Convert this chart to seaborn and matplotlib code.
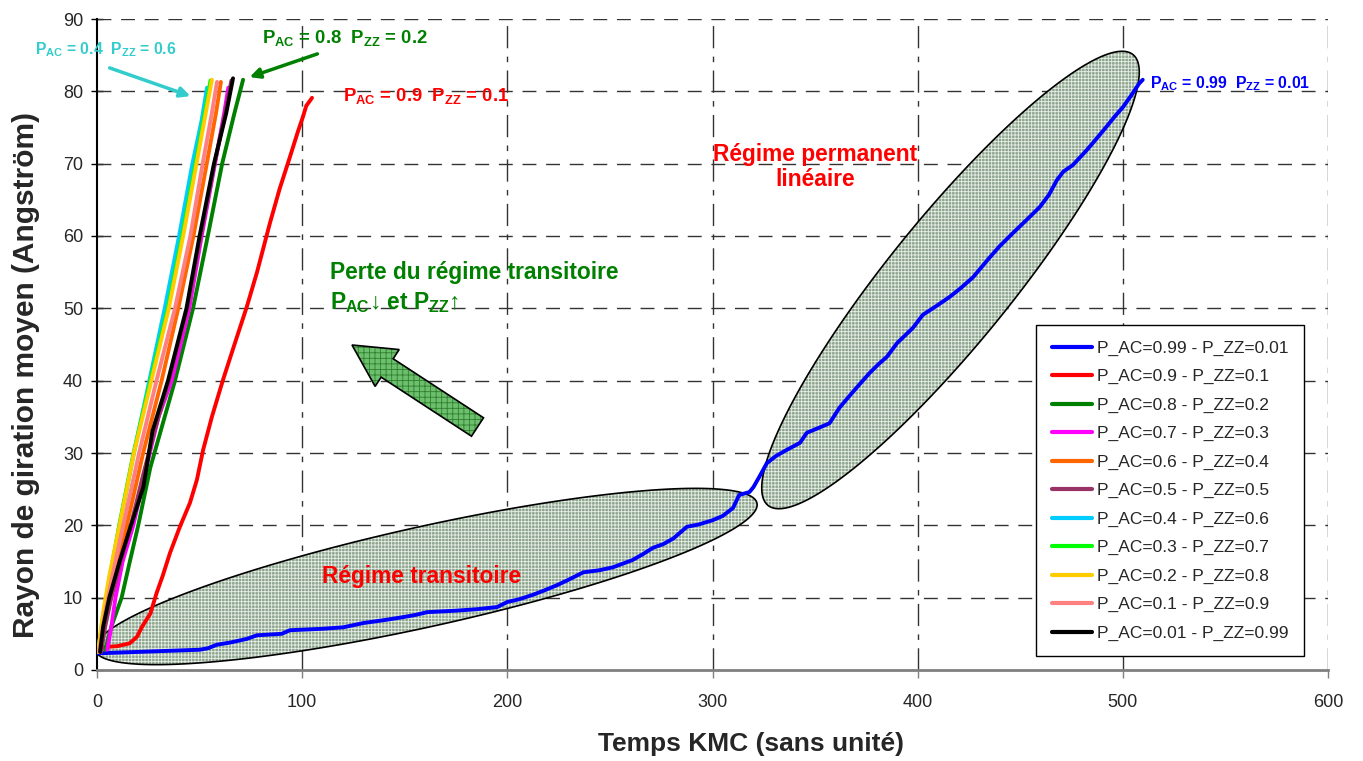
import numpy as np
import pandas as pd
import seaborn as sns
import matplotlib.pyplot as plt
from matplotlib.patches import Polygon

# --- data (x = temps KMC, y = rayon de giration) ---
labels = ["P_AC=0.99 - P_ZZ=0.01", "P_AC=0.9 - P_ZZ=0.1", "P_AC=0.8 - P_ZZ=0.2",
          "P_AC=0.7 - P_ZZ=0.3", "P_AC=0.6 - P_ZZ=0.4", "P_AC=0.5 - P_ZZ=0.5",
          "P_AC=0.4 - P_ZZ=0.6", "P_AC=0.3 - P_ZZ=0.7", "P_AC=0.2 - P_ZZ=0.8",
          "P_AC=0.1 - P_ZZ=0.9", "P_AC=0.01 - P_ZZ=0.99"]
colors = ["#0000ff", "#ff0000", "#008000", "#ff00ff", "#ff6600", "#993366",
          "#00ccff", "#00ff00", "#ffcc00", "#ff8080", "#000000"]

x_099 = [0, 10, 20, 30, 40, 50, 54, 58.5, 65, 73, 78, 90, 94, 110, 120, 130, 140, 149, 155,
         161, 175, 185, 195, 200, 206, 212.5, 218, 224, 230, 237, 245, 251.5, 261, 266, 271,
         276, 281, 287.5, 293, 300, 305, 310, 313, 318, 320, 323, 326.5, 331, 336, 342.6,
         346, 352, 357, 362, 368, 372, 376.7, 381, 385, 390, 397.7, 402.5, 409, 415.7, 421,
         427, 435, 440, 446.4, 453, 459.5, 464, 467.8, 471, 475.6, 482.5, 487, 492, 496,
         500, 504, 508, 509.7]
y_099 = [2.3, 2.4, 2.5, 2.6, 2.7, 2.8, 3.0, 3.5, 3.8, 4.3, 4.8, 5.0, 5.5, 5.7, 5.9, 6.5, 6.9,
         7.3, 7.6, 8.0, 8.2, 8.4, 8.7, 9.4, 9.8, 10.4, 11.0, 11.7, 12.5, 13.5, 13.8, 14.2,
         15.2, 16.0, 16.9, 17.4, 18.2, 19.8, 20.1, 20.7, 21.3, 22.4, 24.2, 24.6, 25.3, 26.8,
         28.6, 29.6, 30.4, 31.4, 32.8, 33.5, 34.1, 36.3, 38.3, 39.6, 41.1, 42.3, 43.3, 45.2,
         47.3, 49.1, 50.3, 51.6, 52.8, 54.3, 57.0, 58.6, 60.4, 62.2, 64.0, 65.7, 67.7, 68.9,
         69.8, 71.9, 73.4, 75.1, 76.5, 77.8, 79.4, 81.1, 81.6]

x_09 = [1, 5, 10, 16, 19.5, 22, 26, 29, 32, 35.6, 40.4, 45.3, 48.7, 51.7, 56, 61.4, 67, 73,
        78, 84.3, 89, 94, 98, 100.4, 102, 104.8]
y_09 = [3.0, 3.2, 3.3, 3.7, 4.6, 6.0, 7.8, 10.6, 13.0, 16.2, 19.8, 23.1, 26.3, 30.4, 35.0,
        40.1, 45.0, 50.2, 55.0, 61.8, 66.5, 70.9, 74.5, 76.5, 78.0, 79.1]

x_08 = [4, 7, 12, 16, 20.1, 26, 31, 38, 46.8, 54, 61, 67, 71.2]
y_08 = [2.8, 6, 10, 15, 20, 28, 33, 40, 50, 60, 70, 77, 81.6]

x_07 = [5, 7, 9, 12.5, 17.7, 24, 30, 36.4, 45, 51, 57.5, 62, 64]
y_07 = [2.8, 6, 10, 15, 20, 28, 35, 40, 50, 60, 70, 77, 80.5]

x_06 = [1.5, 5, 9, 14.5, 22.5, 31.5, 39.6, 47, 53.5, 58, 60.4]
y_06 = [2.5, 8, 13, 20, 30, 40, 50, 60, 70, 77, 81.3]

x_05 = [2, 4, 7, 11.5, 16.5, 22.5, 28, 35, 44, 50.5, 57.3, 62.5, 65.5]
y_05 = [2.5, 6, 10, 15, 20, 27, 33, 40, 50, 60, 70, 77, 81.5]

x_04 = [0.5, 3, 6, 11, 18, 25.5, 33, 40, 46.5, 51, 53.6]
y_04 = [2.5, 7, 12, 20, 30, 40, 50, 60, 70, 76, 80.5]

x_03 = [0.5, 3, 6, 10.8, 17.8, 26, 34.5, 41.5, 48, 52.5, 55.3]
y_03 = [2.5, 7.5, 12.5, 20, 30, 40, 50, 60, 70, 77, 81.5]

x_02 = [0.5, 3, 6, 11, 18, 26.5, 35, 42, 48.5, 53, 56]
y_02 = [2.5, 8, 13, 20, 30, 40, 50, 60, 70, 77, 81.6]

x_01 = [1, 4, 7.5, 12.8, 20.5, 29, 38, 45.5, 51.5, 56, 58.5]
y_01 = [2.5, 8, 13, 20, 30, 40, 50, 60, 70, 77, 81.3]

x_001 = [1.5, 3, 6, 11, 16, 22.6, 27, 34.6, 43.6, 50, 57, 63, 66.3]
y_001 = [2.5, 6, 10, 15, 19.5, 25.3, 33, 40, 50, 60, 70, 77, 81.8]

series_x = [x_099, x_09, x_08, x_07, x_06, x_05, x_04, x_03, x_02, x_01, x_001]
series_y = [y_099, y_09, y_08, y_07, y_06, y_05, y_04, y_03, y_02, y_01, y_001]

rows = []
for lab, xs, ys in zip(labels, series_x, series_y):
    for i, (xv, yv) in enumerate(zip(xs, ys)):
        rows.append({"serie": lab, "ordre": i, "temps": xv, "rayon": yv})
df = pd.DataFrame(rows)

# --- style ---
sns.set_theme(style="white")
plt.rcParams["font.family"] = ["Liberation Sans", "DejaVu Sans"]
plt.rcParams["mathtext.fontset"] = "custom"
plt.rcParams["mathtext.rm"] = "Liberation Sans"
plt.rcParams["mathtext.bf"] = "Liberation Sans:bold"
plt.rcParams["hatch.linewidth"] = 0.6

W, H = 1363, 761
L, R, T, B = 97, 1328, 19, 670
fig = plt.figure(figsize=(W / 100, H / 100), dpi=100)
ax = fig.add_axes([L / W, (H - B) / H, (R - L) / W, (B - T) / H])
ax.set_xlim(0, 600)
ax.set_ylim(0, 90)
SX = (R - L) / 600.0
SY = (B - T) / 90.0


def px_to_data(px, py):
    return (px - L) / SX, (B - py) / SY


def ellipse(cx_px, cy_px, a, b, ang):
    t = np.linspace(0, 2 * np.pi, 300)
    th = np.deg2rad(ang)
    ex = cx_px + a * np.cos(t) * np.cos(th) - b * np.sin(t) * np.sin(th)
    ey = cy_px - (a * np.cos(t) * np.sin(th) + b * np.sin(t) * np.cos(th))
    return np.column_stack([(ex - L) / SX, (B - ey) / SY])


# shaded ellipses (régimes)
for cxp, cyp, a, b, ang in [(426, 576.5, 339, 50, 12.5), (950.5, 280, 290, 62, 51)]:
    pts = ellipse(cxp, cyp, a, b, ang)
    ax.add_patch(Polygon(pts, closed=True, facecolor="#8da58d", edgecolor="#e8eee8",
                         hatch="+++++", lw=0, zorder=1.5))
    ax.add_patch(Polygon(pts, closed=True, fill=False, edgecolor="black", lw=1.2, zorder=1.6))

# grid
for yv in range(10, 100, 10):
    ax.axhline(yv, color="#333333", lw=1, dashes=(10, 7), zorder=1)
for xv in range(100, 700, 100):
    ax.axvline(xv, color="#333333", lw=1, dashes=(16, 6, 4, 6), zorder=1)

sns.lineplot(data=df, x="temps", y="rayon", hue="serie", hue_order=labels,
             palette=dict(zip(labels, colors)), units="serie", estimator=None,
             sort=False, linewidth=2.8, ax=ax, zorder=3)

# big hatched arrow (pixel geometry -> data)
tip = np.array([352, 345.0])
tail = np.array([477.5, 427.0])
d = tip - tail
u = d / np.hypot(*d)
n = np.array([-u[1], u[0]])
hl, hw, sw = 42, 22, 11
base = tip - u * hl
arrow_px = [tip, base + n * hw, base + n * sw, tail + n * sw, tail - n * sw,
            base - n * sw, base - n * hw]
arrow_pts = [px_to_data(p[0], p[1]) for p in arrow_px]
ax.add_patch(Polygon(arrow_pts, closed=True, facecolor="#6cbf6c", edgecolor="#2f7f2f",
                     hatch="+++", lw=0, zorder=4))
ax.add_patch(Polygon(arrow_pts, closed=True, fill=False, edgecolor="black", lw=1.2, zorder=4))

# annotations
bold = dict(fontweight="bold")
ax.text(*px_to_data(35, 50), r"P$_\mathbf{AC}$ = 0.4  P$_\mathbf{ZZ}$ = 0.6", color="#33cccc",
        fontsize=11.3, va="center", ha="left", clip_on=False, **bold)
ax.annotate("", xy=px_to_data(193, 97), xytext=px_to_data(107, 67),
            arrowprops=dict(arrowstyle="-|>", color="#33cccc", lw=2.5, mutation_scale=15),
            annotation_clip=False)
ax.text(*px_to_data(262, 38), r"P$_\mathbf{AC}$ = 0.8  P$_\mathbf{ZZ}$ = 0.2", color="#008000",
        fontsize=13.3, va="center", ha="left", **bold)
ax.annotate("", xy=px_to_data(247, 78), xytext=px_to_data(320, 53),
            arrowprops=dict(arrowstyle="-|>", color="#008000", lw=2.5, mutation_scale=15),
            annotation_clip=False)
ax.text(*px_to_data(343, 96), r"P$_\mathbf{AC}$ = 0.9  P$_\mathbf{ZZ}$ = 0.1", color="#ff0000",
        fontsize=13.3, va="center", ha="left", **bold)
ax.text(*px_to_data(1150, 84), r"P$_\mathbf{AC}$ = 0.99  P$_\mathbf{ZZ}$ = 0.01", color="#0000ff",
        fontsize=11.4, va="center", ha="left", **bold)

ax.text(*px_to_data(815, 167), "Régime permanent\nlinéaire", color="#ff0000", fontsize=16.4,
        ha="center", va="center", linespacing=1.1, zorder=5, **bold)
ax.text(*px_to_data(422, 577), "Régime transitoire", color="#ff0000", fontsize=16.4,
        ha="center", va="center", zorder=5, **bold)
ax.text(*px_to_data(330, 272), "Perte du régime transitoire", color="#008000", fontsize=16.4,
        ha="left", va="center", zorder=5, **bold)
ax.text(*px_to_data(330, 303), r"P$_\mathbf{AC}$↓ et P$_\mathbf{ZZ}$↑", color="#008000",
        fontsize=16.4, ha="left", va="center", zorder=5, **bold)

# axes
ax.set_xticks(range(0, 700, 100))
ax.set_yticks(range(0, 100, 10))
ax.tick_params(axis="x", direction="out", length=6, width=1, color="#808080",
               labelsize=13, pad=11, bottom=True)
ax.tick_params(axis="y", direction="inout", length=8, width=1, color="black",
               labelsize=13, pad=6, left=True)
for s in ["top", "right"]:
    ax.spines[s].set_visible(False)
ax.spines["bottom"].set_color("#808080")
ax.spines["bottom"].set_linewidth(2)
ax.spines["left"].set_color("black")
ax.spines["left"].set_linewidth(1.5)

ax.set_xlabel("Temps KMC (sans unité)", fontsize=19, fontweight="bold")
ax.set_ylabel("Rayon de giration moyen (Angström)", fontsize=21.5, fontweight="bold")
ax.xaxis.set_label_coords(0.531, -0.095)
ax.yaxis.set_label_coords(-0.046, 0.453)

sns.move_legend(ax, loc="upper left", bbox_to_anchor=(0.7628, 0.530), title=None,
                frameon=True, fancybox=False, edgecolor="black", framealpha=1,
                fontsize=12.5, handlelength=2.3, handletextpad=0.3, labelspacing=0.76,
                borderpad=0.9, borderaxespad=0)
leg = ax.get_legend()
leg.get_frame().set_linewidth(1)
for h in leg.legend_handles:
    h.set_linewidth(3)

fig.savefig("out.png", dpi=100)
